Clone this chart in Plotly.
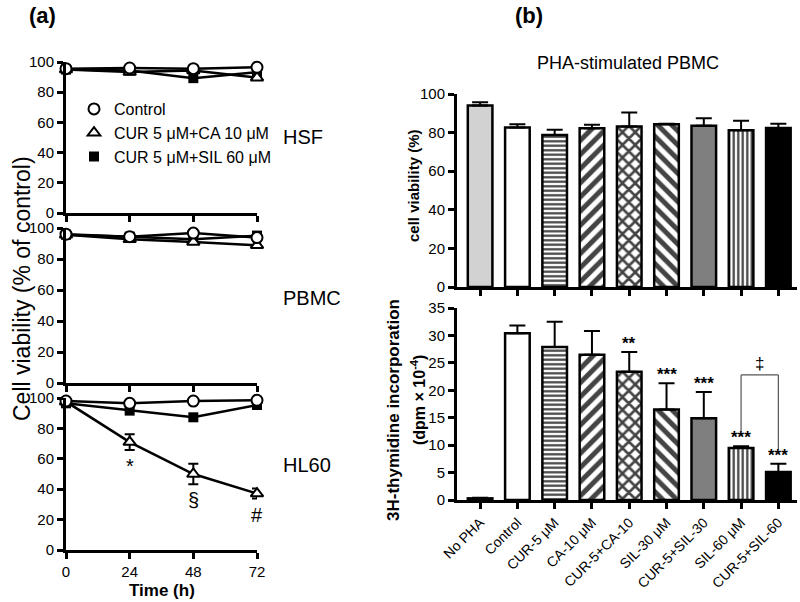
import plotly.graph_objects as go

# ---------------- data: panel (a) ----------------
times = [0, 24, 48, 72]
time_ticks = [0, 24, 48, 72]
pct_ticks = [0, 20, 40, 60, 80, 100]
series_names = ["Control", "CUR 5 μM+CA 10 μM", "CUR 5 μM+SIL 60 μM"]

hsf_control = [95.6, 96.0, 95.6, 96.5]
hsf_cur_ca = [95.0, 93.3, 94.4, 89.6]
hsf_cur_sil = [95.0, 94.4, 89.3, 93.3]

pbmc_control = [96.0, 94.4, 96.7, 93.8]
pbmc_cur_ca = [95.6, 92.7, 91.0, 88.9]
pbmc_cur_sil = [95.6, 94.4, 92.7, 95.1]

hl60_control = [98.0, 96.5, 98.0, 98.5]
hl60_cur_ca = [97.6, 71.0, 50.0, 37.1]
hl60_cur_ca_err = [0, 5.2, 6.7, 3.3]
hl60_cur_sil = [96.5, 91.7, 87.3, 95.4]

hl60_sig_labels = ["*", "§", "#"]
hl60_sig_times = [24, 48, 72]
hl60_sig_y = [55, 33, 23]

# ---------------- data: panel (b) ----------------
categories = ["No PHA", "Control", "CUR-5 μM", "CA-10 μM", "CUR-5+CA-10",
              "SIL-30 μM", "CUR-5+SIL-30", "SIL-60 μM", "CUR-5+SIL-60"]
viability = [94.0, 82.6, 78.8, 82.2, 83.2, 84.3, 83.6, 81.2, 82.4]
viability_err = [1.7, 1.7, 2.7, 1.9, 7.2, 0.3, 3.8, 5.0, 2.2]
viability_ticks = [0, 20, 40, 60, 80, 100]

thymidine = [0.3, 30.4, 27.9, 26.5, 23.4, 16.5, 14.9, 9.5, 5.1]
thymidine_err = [0.1, 1.4, 4.6, 4.3, 3.6, 4.8, 4.8, 0.3, 1.5]
thymidine_ticks = [0, 5, 10, 15, 20, 25, 30, 35]
thy_sig = ["", "", "", "", "**", "***", "***", "***", "***"]
thy_sig_y = [0, 0, 0, 0, 27.2, 21.5, 19.9, 10.0, 6.8]

bracket_cats = ["SIL-60 μM", "CUR-5+SIL-60"]
bracket_left_y = 12.6
bracket_top_y = 22.8
bracket_right_y = 9.2
bracket_label = "‡"

bar_colors = ["#d2d2d2", "white", "white", "white", "white", "white", "#7f7f7f", "white", "black"]
bar_patterns = ["", "", "-", "/", "x", "\\", "", "|", ""]
bar_pattern_sizes = [8, 8, 4.5, 10, 9, 10, 8, 4.5, 8]

FONT = "Liberation Sans, Arial, sans-serif"
W, H = 800, 602


def px(x):
    return x / W


def py(y):
    return 1 - y / H


fig = go.Figure()

# ---------------- panel (a) traces ----------------
panels = [
    ("x", "y", hsf_control, hsf_cur_ca, hsf_cur_sil, None),
    ("x2", "y2", pbmc_control, pbmc_cur_ca, pbmc_cur_sil, None),
    ("x3", "y3", hl60_control, hl60_cur_ca, hl60_cur_sil, hl60_cur_ca_err),
]
for xa, ya, ctrl, ca, sil, ca_err in panels:
    fig.add_trace(go.Scatter(
        x=times, y=sil, xaxis=xa, yaxis=ya, mode="lines+markers",
        line=dict(color="black", width=2.5),
        marker=dict(symbol="square", size=10, color="black"),
        showlegend=False, cliponaxis=False))
    tr = dict(
        x=times, y=ca, xaxis=xa, yaxis=ya, mode="lines+markers",
        line=dict(color="black", width=2.5),
        marker=dict(symbol="triangle-up", size=11, color="white",
                    line=dict(color="black", width=2)),
        showlegend=False, cliponaxis=False)
    if ca_err is not None:
        tr["error_y"] = dict(type="data", array=ca_err, color="black",
                             thickness=2, width=5)
    fig.add_trace(go.Scatter(**tr))
    fig.add_trace(go.Scatter(
        x=times, y=ctrl, xaxis=xa, yaxis=ya, mode="lines+markers",
        line=dict(color="black", width=2.5),
        marker=dict(symbol="circle", size=11, color="white",
                    line=dict(color="black", width=2)),
        showlegend=False, cliponaxis=False))

# legend-only entries
leg_markers = [
    dict(symbol="circle", size=11, color="white", line=dict(color="black", width=2)),
    dict(symbol="triangle-up", size=11, color="white", line=dict(color="black", width=2)),
    dict(symbol="square", size=10, color="black"),
]
for name, mk in zip(series_names, leg_markers):
    fig.add_trace(go.Scatter(x=[None], y=[None], xaxis="x", yaxis="y",
                             mode="markers", marker=mk, name=name, showlegend=True))

# ---------------- panel (b) traces ----------------
zeros = [0] * len(categories)
for xa, ya, vals, errs in [("x4", "y4", viability, viability_err),
                           ("x5", "y5", thymidine, thymidine_err)]:
    fig.add_trace(go.Bar(
        x=categories, y=vals, xaxis=xa, yaxis=ya, width=0.66,
        marker=dict(color=bar_colors, line=dict(color="black", width=2.5),
                    pattern=dict(shape=bar_patterns, size=bar_pattern_sizes,
                                 solidity=0.5, fgcolor="black", fgopacity=1,
                                 bgcolor="white")),
        error_y=dict(type="data", symmetric=False, array=errs,
                     arrayminus=zeros, color="black", thickness=2, width=8),
        showlegend=False))

# ---------------- axes ----------------
a_xdom = [px(66), px(257)]
a_ydoms = [[py(213), py(62)], [py(383), py(228)], [py(550), py(398)]]
b_xdom = [px(457), px(797)]
b_ydom_top = [py(287), py(94)]
b_ydom_bot = [py(500), py(308)]

axis_common = dict(showline=True, linecolor="black", linewidth=3, ticks="outside",
                   ticklen=6, tickwidth=2.5, tickcolor="black", showgrid=False,
                   zeroline=False, mirror=False, automargin=False,
                   tickfont=dict(family=FONT, size=15, color="black"))

layout = dict(
    width=W, height=H, margin=dict(l=0, r=0, t=0, b=0, autoexpand=False),
    paper_bgcolor="white", plot_bgcolor="white",
    font=dict(family=FONT, color="black"),
    legend=dict(x=px(74), y=py(92), xanchor="left", yanchor="top",
                bgcolor="rgba(0,0,0,0)", font=dict(family=FONT, size=16, color="black"),
                itemwidth=30, tracegroupgap=0),
)
for i, ydom in enumerate(a_ydoms):
    xs = "" if i == 0 else str(i + 1)
    layout["xaxis" + xs] = dict(axis_common, domain=a_xdom, anchor="y" + xs,
                                range=[0, 72], tickvals=time_ticks,
                                showticklabels=(i == 2))
    layout["yaxis" + xs] = dict(axis_common, domain=ydom, anchor="x" + xs,
                                range=[0, 100], tickvals=pct_ticks)

layout["xaxis4"] = dict(axis_common, domain=b_xdom, anchor="y4", type="category",
                        range=[-0.62, 8.5], showticklabels=False)
layout["yaxis4"] = dict(axis_common, domain=b_ydom_top, anchor="x4",
                        range=[0, 100], tickvals=viability_ticks)
layout["xaxis5"] = dict(axis_common, domain=b_xdom, anchor="y5", type="category",
                        range=[-0.62, 8.5], tickangle=-45,
                        tickfont=dict(family=FONT, size=14, color="black"))
layout["yaxis5"] = dict(axis_common, domain=b_ydom_bot, anchor="x5",
                        range=[0, 35], tickvals=thymidine_ticks)

fig.update_layout(**layout)

# ---------------- annotations ----------------
ann = []


def text(x, y, s, size, bold=False, angle=0, xanchor="center", yanchor="middle"):
    ann.append(dict(x=x, y=y, xref="paper", yref="paper", text=("<b>%s</b>" % s) if bold else s,
                    showarrow=False, textangle=angle, xanchor=xanchor, yanchor=yanchor,
                    font=dict(family=FONT, size=size, color="black")))


text(px(42), py(16), "(a)", 22, bold=True)
text(px(529), py(16), "(b)", 22, bold=True)
text(px(628), py(63), "PHA-stimulated PBMC", 18)
text(px(22), py(289), "Cell viability (% of control)", 23, angle=-90)
text(px(162), py(590), "Time (h)", 17, bold=True)
text(px(281), py(137), "HSF", 20, xanchor="left")
text(px(281), py(298), "PBMC", 20, xanchor="left")
text(px(281), py(465), "HL60", 20, xanchor="left")
text(px(413), py(186), "cell viability (%)", 15, bold=True, angle=-90)
text(px(393), py(410), "3H-thymidine incorporation", 17, bold=True, angle=-90)
text(px(418), py(400), "(dpm × 10<sup>-4</sup>)", 16, bold=True, angle=-90)

for lab, t, yv in zip(hl60_sig_labels, hl60_sig_times, hl60_sig_y):
    ann.append(dict(x=t, y=yv, xref="x3", yref="y3", text=lab, showarrow=False,
                    font=dict(family=FONT, size=20, color="black")))

for cat, lab, yv in zip(categories, thy_sig, thy_sig_y):
    if lab:
        ann.append(dict(x=cat, y=yv, xref="x5", yref="y5", text="<b>%s</b>" % lab,
                        showarrow=False, yanchor="bottom", yshift=-4,
                        font=dict(family=FONT, size=17, color="black")))

ann.append(dict(x=7.5, y=bracket_top_y, xref="x5", yref="y5", text=bracket_label,
                showarrow=False, yanchor="bottom", yshift=0,
                font=dict(family=FONT, size=17, color="black")))

fig.update_layout(annotations=ann)

# bracket
for (xa0, xa1, y0, y1) in [(bracket_cats[0], bracket_cats[0], bracket_left_y, bracket_top_y),
                           (bracket_cats[0], bracket_cats[1], bracket_top_y, bracket_top_y),
                           (bracket_cats[1], bracket_cats[1], bracket_right_y, bracket_top_y)]:
    fig.add_shape(type="line", xref="x5", yref="y5", x0=xa0, x1=xa1, y0=y0, y1=y1,
                  line=dict(color="#555555", width=1.2))

fig.write_html("out.html", config={"displayModeBar": False},
               post_script="document.body.style.margin='0px';")
